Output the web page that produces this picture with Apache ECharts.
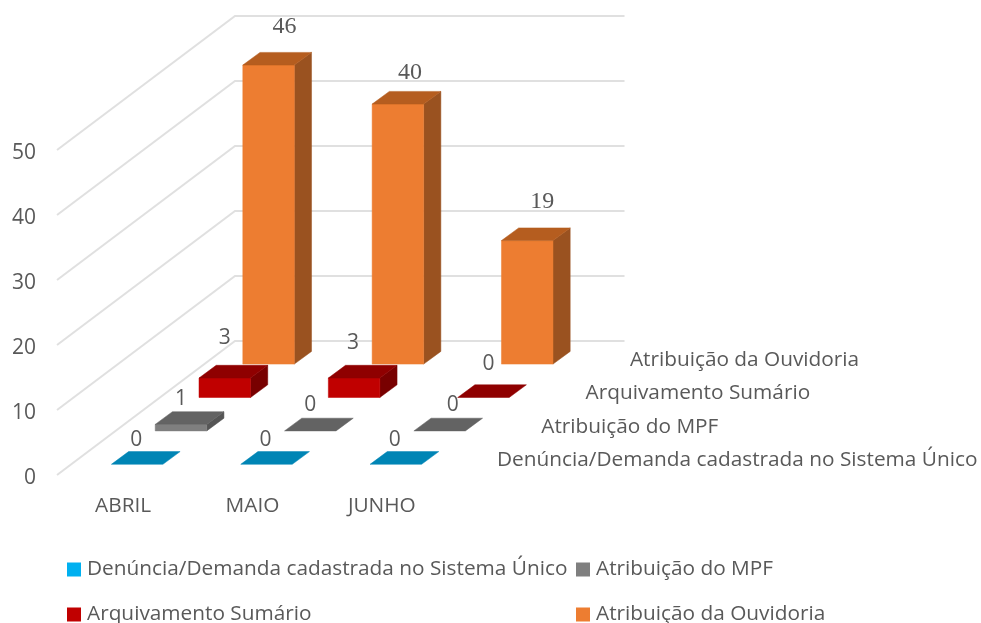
<!DOCTYPE html>
<html><head><meta charset="utf-8">
<style>html,body{margin:0;padding:0;background:#fff}#c{width:981px;height:623px}</style>
<script src="https://cdn.jsdelivr.net/npm/echarts@6/dist/echarts.min.js"></script>
</head><body><div id="c"></div>
<script>
const categories = ['ABRIL', 'MAIO', 'JUNHO'];
const yTicks = [0, 10, 20, 30, 40, 50];
const denuncia = [0, 0, 0];
const mpf = [1, 0, 0];
const arquivamento = [3, 3, 0];
const ouvidoria = [46, 40, 19];
const seriesNames = ['Denúncia/Demanda cadastrada no Sistema Único', 'Atribuição do MPF', 'Arquivamento Sumário', 'Atribuição da Ouvidoria'];
const seriesValues = [denuncia, mpf, arquivamento, ouvidoria];

// Oblique projection of the "depth" axis
const slot = [43.8, -33.4];
const labelStep = [44.3, -33.4];
const wallBack = [178, -134];
const start = [15.5, -10.7];
const barDepth = [17.2, -12.7];
const barRatio = 51.5 / 129.3;
const looks = [
  { front: '#00B0F0', top: '#0085B5', side: '#006E96' },
  { front: '#7F7F7F', top: '#636363', side: '#555555' },
  { front: '#C00000', top: '#8F0000', side: '#780000' },
  { front: '#ED7D31', top: '#B55D1F', side: '#9A5220' }
];
// Hand-placed data labels in the source: offset from the centre of the bar's front top edge
const labelNudge = [
  [[-1, -24], [-1, -24], [-1, -24]],
  [[0, -25], [0, -26], [13, -26]],
  [[0, -40], [-1, -35], [5, -33]],
  [[16, -38], [12, -31], [15, -39]]
];
const ink = '#595959';
const sans = '"Open Sans"';
const textSize = 20.8;

function poly(points, fill) {
  return { type: 'polygon', shape: { points }, style: { fill, stroke: fill, lineWidth: 0.5 } };
}

function barRenderer(depth) {
  return function (params, api) {
    const c = api.value(0), v = api.value(1);
    const band = api.size([1, 0])[0];
    const w = band * barRatio;
    const top = api.coord([c, v]), base = api.coord([c, 0]);
    const ox = start[0] + slot[0] * depth, oy = start[1] + slot[1] * depth;
    const l = top[0] - w / 2 + ox, r = l + w;
    const t = top[1] + oy, b = base[1] + oy;
    const dx = barDepth[0], dy = barDepth[1];
    const look = looks[depth];
    const n = labelNudge[depth][c];
    const children = [];
    if (b - t > 0.01) {
      children.push(poly([[r, t], [r + dx, t + dy], [r + dx, b + dy], [r, b]], look.side));
      children.push(poly([[l, t], [r, t], [r, b], [l, b]], look.front));
    }
    children.push(poly([[l, t], [r, t], [r + dx, t + dy], [l + dx, t + dy]], look.top));
    children.push({
      type: 'text',
      style: {
        x: (l + r) / 2 + n[0], y: t + n[1],
        text: String(v), fill: ink,
        font: depth === 3 ? '24px "Liberation Serif"' : '21px ' + sans,
        textAlign: 'center', textVerticalAlign: 'middle'
      }
    });
    return { type: 'group', children };
  };
}

function wallRenderer(params, api) {
  const t = api.coord([0, api.value(1)]);
  const g = params.coordSys;
  return {
    type: 'polyline',
    shape: { points: [[g.x, t[1]], [g.x + wallBack[0], t[1] + wallBack[1]], [g.x + g.width + wallBack[0] + 1.5, t[1] + wallBack[1]]] },
    style: { fill: null, stroke: '#E0E0E0', lineWidth: 2 }
  };
}

function depthLabelRenderer(params, api) {
  const band = api.size([1, 0])[0];
  const p = api.coord([api.value(0), 0]);
  const d = api.value(1);
  return {
    type: 'text',
    style: {
      x: p[0] + band / 2 + 52 + labelStep[0] * d,
      y: p[1] - 15 + labelStep[1] * d,
      text: seriesNames[d], fill: ink, font: textSize + 'px ' + sans,
      textAlign: 'left', textVerticalAlign: 'middle'
    }
  };
}

function legendFor(index, left, top) {
  return {
    orient: 'horizontal', icon: 'rect', itemWidth: 14, itemHeight: 14, padding: 0,
    selectedMode: false, left, top, data: [seriesNames[index]],
    textStyle: { color: ink, fontFamily: sans, fontSize: textSize, padding: [0, 0, 0, 1] }
  };
}

const option = {
  animation: false,
  backgroundColor: '#fff',
  grid: { left: 57, top: 150, width: 388, height: 325, containLabel: false },
  xAxis: {
    type: 'category', data: categories,
    axisLine: { show: false }, axisTick: { show: false }, splitLine: { show: false },
    axisLabel: { color: ink, fontFamily: sans, fontSize: textSize, margin: 21, padding: [0, 0, 0, 3] }
  },
  yAxis: {
    type: 'value', min: 0, max: 50, interval: 10,
    axisLine: { show: false }, axisTick: { show: false }, splitLine: { show: false },
    axisLabel: { color: ink, fontFamily: sans, fontSize: 21, margin: 21, verticalAlign: 'top', lineHeight: 6 }
  },
  legend: [
    legendFor(0, 67, 559),
    legendFor(1, 576, 559),
    legendFor(2, 67, 604),
    legendFor(3, 576, 604)
  ],
  series: [
    {
      name: 'grade', type: 'custom', silent: true, z: 1, clip: false,
      encode: { x: 0, y: 1 }, data: yTicks.map(t => [0, t]), renderItem: wallRenderer
    },
    {
      name: 'profundidade', type: 'custom', silent: true, z: 1, clip: false,
      encode: { x: 0, y: -1 },
      data: seriesNames.map((n, i) => [categories.length - 1, i]), renderItem: depthLabelRenderer
    }
  ].concat(seriesNames.map((name, depth) => ({
    name, type: 'custom', z: 6 - depth, clip: false,
    itemStyle: { color: looks[depth].front },
    encode: { x: 0, y: 1 },
    data: seriesValues[depth].map((v, i) => [i, v]),
    renderItem: barRenderer(depth)
  })))
};
echarts.init(document.getElementById('c')).setOption(option);
</script></body></html>
